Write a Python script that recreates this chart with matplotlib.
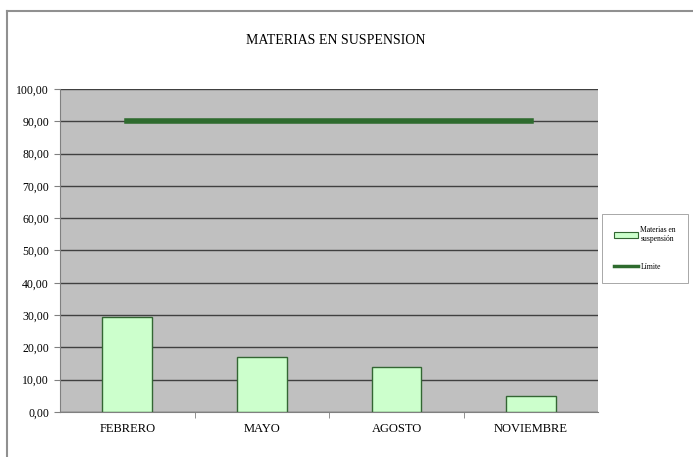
import numpy as np
import matplotlib.pyplot as plt
from matplotlib.lines import Line2D

meses = ['FEBRERO', 'MAYO', 'AGOSTO', 'NOVIEMBRE']
materias = [29.5, 16.9, 13.8, 5.0]
limite = [90, 90, 90, 90]
yticks = np.arange(0, 101, 10)

plt.rcParams['font.family'] = ['Liberation Serif', 'DejaVu Serif']

fig = plt.figure(figsize=(6.93, 4.57), dpi=100)
ax = fig.add_axes([0.0866, 0.0985, 0.777, 0.707])

x = np.arange(len(meses))
ax.set_facecolor('#c0c0c0')
ax.set_axisbelow(True)
ax.yaxis.grid(True, color='#404040', linewidth=1.0)
ax.bar(x, materias, width=0.37, color='#ccffcc', edgecolor='#336633',
       linewidth=1.0, label='Materias en\nsuspensión', zorder=2)
ax.plot(x, limite, color='#2e6b2e', linewidth=4, label='Límite', zorder=3)

ax.set_xlim(-0.5, len(meses) - 0.5)
ax.set_ylim(0, 100)
ax.set_yticks(yticks)
ax.set_yticklabels([f'{v:.2f}'.replace('.', ',') for v in yticks], fontsize=8.5)
ax.set_xticks(x)
ax.set_xticklabels(meses, fontsize=9)
ax.set_xticks(np.arange(0.5, len(meses) - 0.5), minor=True)
ax.tick_params(axis='x', which='major', length=0, pad=8)
ax.tick_params(axis='x', which='minor', length=4, color='#808080')
ax.tick_params(axis='y', length=4, color='#808080', pad=4)
for s in ['top', 'right']:
    ax.spines[s].set_visible(False)
ax.spines['left'].set_color('#808080')
ax.spines['bottom'].set_color('#808080')

fig.text(0.485, 0.912, 'MATERIAS EN SUSPENSION', ha='center', va='center', fontsize=10)

handles = [plt.Rectangle((0, 0), 1, 1, facecolor='#ccffcc', edgecolor='#336633', linewidth=0.8),
           Line2D([0], [0], color='#2e6b2e', linewidth=2.5)]
leg = fig.legend(handles, ['Materias en\nsuspensión', 'Límite'],
                 loc='upper left', bbox_to_anchor=(0.868, 0.532),
                 fontsize=5.5, frameon=True, fancybox=False, edgecolor='#808080',
                 handlelength=3.2, handletextpad=0.3, labelspacing=2.6,
                 borderpad=1.6, borderaxespad=0)
leg.get_frame().set_linewidth(0.6)

# chart border
fig.add_artist(Line2D([0.0101, 0.0101], [0, 0.976], color='#909090', linewidth=1.5))
fig.add_artist(Line2D([0.0101, 1], [0.976, 0.976], color='#909090', linewidth=1.5))

fig.savefig('out.png', dpi=100)
